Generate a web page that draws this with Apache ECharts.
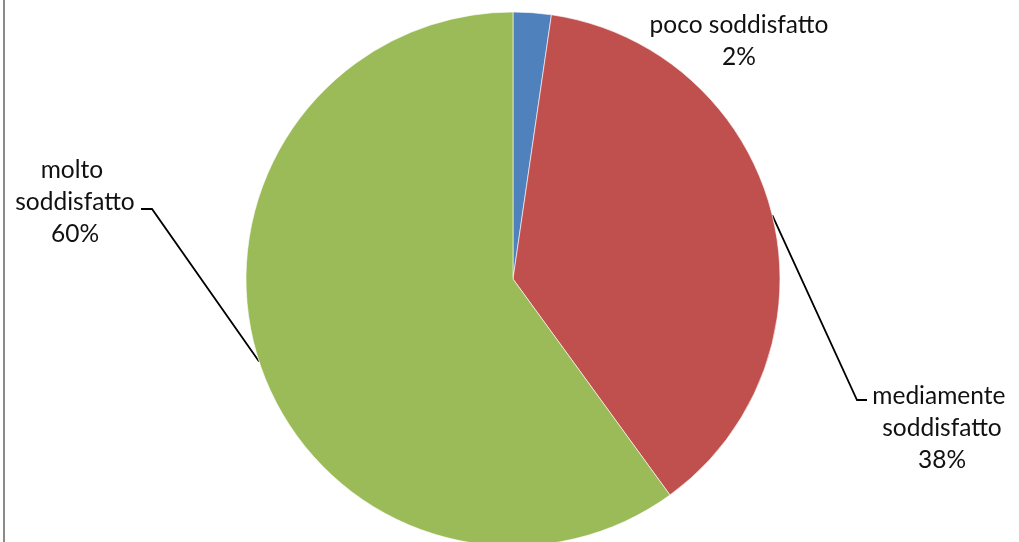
<!DOCTYPE html>
<html>
<head>
<meta charset="utf-8">
<script src="https://cdn.jsdelivr.net/npm/echarts@6/dist/echarts.min.js"></script>
<style>
html,body{margin:0;padding:0;background:#fff;}
#chart{width:1019px;height:542px;}
</style>
</head>
<body>
<div id="chart"></div>
<script>
// Data
const categories = ['poco soddisfatto', 'mediamente soddisfatto', 'molto soddisfatto'];
const values = [2.3, 37.7, 60.0];
const colors = ['#4F81BD', '#C0504D', '#9BBB59'];

// Label placement (layout only)
const labelPlacement = [
  { x: 739, y: 41, line: false, wrapWidth: 240 },
  { x: 942, y: 428, line: true, bend: [857, 400], end: [867, 400], wrapWidth: 150 },
  { x: 75, y: 202, line: true, bend: [152, 209], end: [141, 209], wrapWidth: 150 }
];

const chart = echarts.init(document.getElementById('chart'), null, { renderer: 'canvas' });

const data = categories.map((name, i) => ({
  name: name,
  value: values[i],
  itemStyle: { color: colors[i] },
  label: { width: labelPlacement[i].wrapWidth, overflow: 'break' },
  labelLine: { show: labelPlacement[i].line }
}));

chart.setOption({
  animation: false,
  backgroundColor: '#ffffff',
  graphic: [{
    type: 'rect', left: 3, top: 0,
    shape: { width: 2, height: 542 },
    style: { fill: '#8a8a8a' }, silent: true
  }],
  series: [{
    type: 'pie',
    center: [513, 279],
    radius: 267,
    startAngle: 90,
    clockwise: true,
    percentPrecision: 0,
    silent: true,
    itemStyle: { borderColor: '#ffffff', borderWidth: 0.6 },
    label: {
      show: true,
      position: 'outside',
      formatter: '{b}\n{d}%',
      fontFamily: 'Lato',
      fontSize: 24.5,
      lineHeight: 32,
      color: '#111111',
      align: 'center'
    },
    labelLine: {
      show: true,
      lineStyle: { color: '#000000', width: 1.8 }
    },
    labelLayout: function (params) {
      const p = labelPlacement[params.dataIndex];
      const res = { x: p.x, y: p.y, align: 'center', verticalAlign: 'middle' };
      if (p.line && params.labelLinePoints) {
        const start = params.labelLinePoints[0];
        res.labelLinePoints = [start, p.bend, p.end];
      }
      return res;
    },
    data: data
  }]
});
</script>
</body>
</html>
